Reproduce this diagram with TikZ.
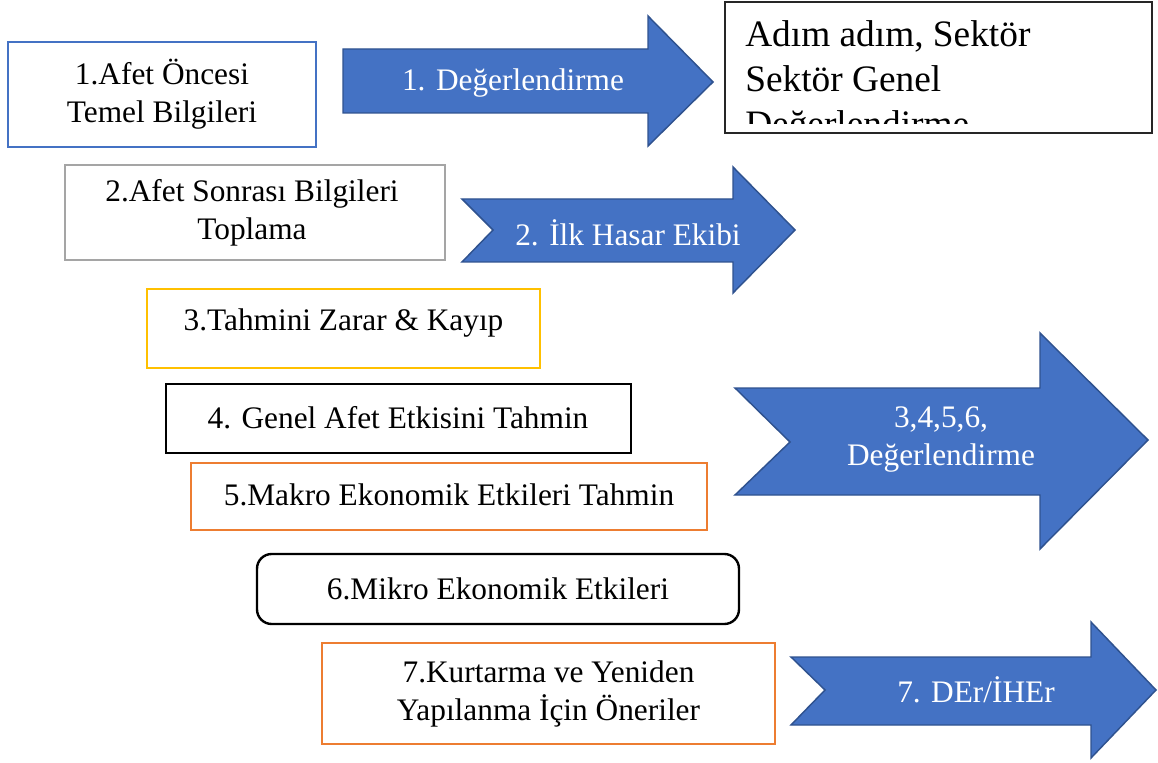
\documentclass[tikz,border=0pt]{standalone}
\usepackage{fontspec}
\setmainfont{Liberation Serif}
\usepackage{tikz}
\definecolor{arrowfill}{RGB}{68,114,196}
\definecolor{arrowedge}{RGB}{47,82,143}
\definecolor{preedge}{RGB}{68,114,196}
\definecolor{postedge}{RGB}{165,165,165}
\definecolor{lossedge}{RGB}{255,192,0}
\definecolor{macroedge}{RGB}{237,125,49}
\newcommand{\stepfont}{\fontsize{23.5}{28.5}\selectfont}
\newcommand{\sectorfont}{\fontsize{28}{34}\selectfont}

\begin{document}
\begin{tikzpicture}[x=0.75pt, y=-0.75pt,
		stepbox/.style={line width=1.5pt},
		steptext/.style={align=center, font=\stepfont},
		arrowbody/.style={fill=arrowfill, draw=arrowedge, line width=1.1pt, line join=miter},
		arrowtext/.style={align=center, font=\stepfont, text=white}]
		\useasboundingbox (0,0) rectangle (1158,763);

		\draw[stepbox, preedge] (8,42) rectangle (316,147);
		\node[steptext] (pre) at (162,94) {1.Afet Öncesi\\Temel Bilgileri};

		\filldraw[arrowbody] (343,49) -- (648,49) -- (648,16) -- (713,82) -- (648,146) -- (648,113) -- (343,113) -- cycle;
		\node[arrowtext] (eval1) at (513,83) {1. Değerlendirme};

		\draw[line width=0.8pt, black!85] (725,2) rectangle (1152,133);
		\begin{scope}
			\clip (725,2) rectangle (1152,124);
			\node[anchor=base west, align=left, font=\sectorfont, inner sep=0pt] (sector) at (745,137) {Adım adım, Sektör\\Sektör Genel\\Değerlendirme};
		\end{scope}

		\draw[stepbox, postedge] (65,165) rectangle (445,260);
		\node[steptext] (post) at (252,213) {2.Afet Sonrası Bilgileri\\Toplama};

		\filldraw[arrowbody] (462,199) -- (733,199) -- (733,167) -- (795,230) -- (733,293) -- (733,262) -- (462,262) -- (493,230) -- cycle;
		\node[arrowtext] (team) at (628,233) {2. İlk Hasar Ekibi};

		\draw[stepbox, lossedge] (147,289) rectangle (540,368);
		\node[steptext] (loss) at (343.5,323) {3.Tahmini Zarar \& Kayıp};

		\draw[stepbox, line width=1.8pt, black] (166,384) rectangle (631,453);
		\node[steptext] (impact) at (398,418) {4. Genel Afet Etkisini Tahmin};

		\draw[stepbox, macroedge] (191,463) rectangle (707,530);
		\node[steptext] (macro) at (449,495) {5.Makro Ekonomik Etkileri Tahmin};

		\filldraw[arrowbody] (735,388) -- (1040,388) -- (1040,333) -- (1148,440) -- (1040,549) -- (1040,495) -- (735,495) -- (790,442) -- cycle;
		\node[arrowtext] (eval36) at (941,440) {3,4,5,6,\\Değerlendirme};

		\draw[stepbox, line width=1.8pt, black, rounded corners=11pt] (257,554) rectangle (739,624);
		\node[steptext] (micro) at (498,589) {6.Mikro Ekonomik Etkileri};

		\draw[stepbox, macroedge] (322,643) rectangle (775,744);
		\node[steptext] (advice) at (548.5,694) {7.Kurtarma ve Yeniden\\Yapılanma İçin Öneriler};

		\filldraw[arrowbody] (791,657) -- (1091,657) -- (1091,622) -- (1156,690) -- (1091,758) -- (1091,725) -- (791,725) -- (825,690) -- cycle;
		\node[arrowtext] (der) at (976,690) {7. DEr/İHEr};
	\end{tikzpicture}
\end{document}
